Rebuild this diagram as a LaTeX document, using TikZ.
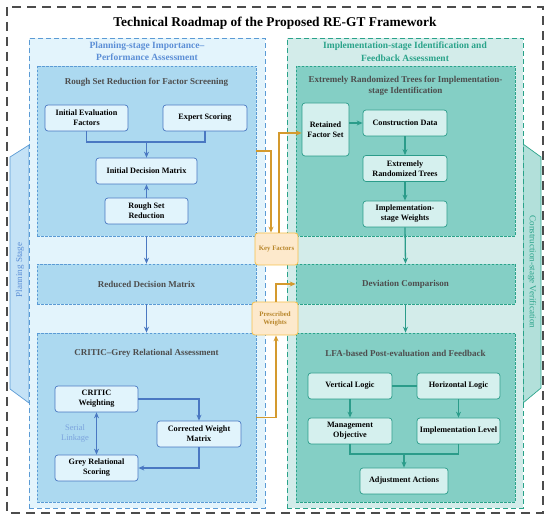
\documentclass[tikz,border=0pt]{standalone}
\usepackage{fontspec}
\setmainfont{Liberation Serif}
\usetikzlibrary{calc,positioning,arrows.meta}

\definecolor{pbord}{HTML}{5B9BD5}
\definecolor{pfill}{HTML}{E3F4FC}
\definecolor{pinner}{HTML}{ACD9F0}
\definecolor{pnode}{HTML}{E1F4FC}
\definecolor{pline}{HTML}{4A78C2}
\definecolor{ptext}{HTML}{5B8ED6}
\definecolor{pside}{HTML}{C4E2F6}
\definecolor{tbord}{HTML}{2AA38A}
\definecolor{tfill}{HTML}{D3ECEA}
\definecolor{tinner}{HTML}{84CFC5}
\definecolor{tnode}{HTML}{D5F0EE}
\definecolor{tline}{HTML}{2B9C8A}
\definecolor{tside}{HTML}{B2E0DA}
\definecolor{obord}{HTML}{F5C04A}
\definecolor{ofill}{HTML}{FDE9CC}
\definecolor{oline}{HTML}{D49A2E}
\definecolor{otext}{HTML}{B8862B}
\definecolor{gtext}{HTML}{4D4D4D}

\begin{document}
\begin{tikzpicture}[x=1pt,y=-1pt,
  panel/.style={draw, line width=0.8pt, dash pattern=on 5pt off 3pt, inner sep=0pt},
  inbox/.style={draw, line width=0.6pt, dash pattern=on 2.5pt off 1.5pt, inner sep=0pt},
  pbox/.style={draw=pline, fill=pnode, rounded corners=3pt, line width=0.7pt, align=center,
    font=\fontsize{8.2}{10}\selectfont\bfseries, inner sep=1pt},
  tbox/.style={draw=tline, fill=tnode, rounded corners=3pt, line width=0.7pt, align=center,
    font=\fontsize{8.2}{10}\selectfont\bfseries, inner sep=1pt},
  obox/.style={draw=obord, fill=ofill, rounded corners=3pt, line width=0.8pt, align=center,
    text=otext, font=\fontsize{6.8}{8}\selectfont\bfseries, inner sep=1pt},
  ptitle/.style={text=ptext, font=\fontsize{9.5}{12.5}\selectfont\bfseries, align=center},
  ttitle/.style={text=tbord, font=\fontsize{9.5}{12.5}\selectfont\bfseries, align=center},
  ititle/.style={text=gtext, font=\fontsize{9}{11}\selectfont\bfseries, align=center},
  parrow/.style={draw=pline, line width=1.3pt, -{Stealth[length=6pt,width=5pt]}},
  pline/.style={draw=pline, line width=1.3pt},
  tarrow/.style={draw=tline, line width=1.3pt, -{Stealth[length=6pt,width=5pt]}},
  tlink/.style={draw=tline, line width=1.3pt},
  oarrow/.style={draw=oline, line width=1.3pt, -{Stealth[length=6pt,width=5pt]}}]

\useasboundingbox (0,0) rectangle (550,521);

% outer frame and title
\draw[gray!60!black, line width=1.3pt, dash pattern=on 9pt off 6pt] (7,7) rectangle (543,513);
\node[font=\fontsize{13.4}{15}\selectfont\bfseries] (title) at (275,23) {Technical Roadmap of the Proposed RE-GT Framework};

% side stages
\draw[pbord, fill=pside, line width=0.7pt] (29,145) -- (10,157) -- (10,389) -- (29,403) -- cycle;
\node[rotate=90, text=ptext, font=\fontsize{9}{11}\selectfont] (plan) at (20,270) {Planning Stage};
\draw[tbord, fill=tside, line width=0.7pt] (523,144) -- (541,157) -- (541,388) -- (523,403) -- cycle;
\node[rotate=-90, text=tbord, font=\fontsize{9}{11}\selectfont] (constr) at (532,272) {Construction-stage Verification};

% planning side
\node[panel, draw=pbord, fill=pfill, minimum width=236pt, minimum height=470pt] (left) at (147,273) {};
\node[ptitle] at (147,51.5) {Planning-stage Importance--\\Performance Assessment};

\node[inbox, draw=pbord, fill=pinner, minimum width=219pt, minimum height=170pt] (rough) at (146.5,151) {};
\node[ititle] at (146.5,82) {Rough Set Reduction for Factor Screening};
\node[pbox, minimum width=83pt, minimum height=26pt] (ief) at (86.5,118) {Initial Evaluation\\Factors};
\node[pbox, minimum width=84pt, minimum height=26pt] (exs) at (205,118) {Expert Scoring};
\node[pbox, minimum width=101pt, minimum height=26pt] (idm) at (146.5,171) {Initial Decision Matrix};
\node[pbox, minimum width=83pt, minimum height=26pt] (rsr) at (146.5,211) {Rough Set\\Reduction};
\coordinate (joinA) at (146.5,142);
\draw[pline] (ief.south) |- (joinA) -| (exs.south);
\draw[parrow] (joinA) -- (idm.north);
\draw[parrow] (rsr.north) -- (idm.south);

\node[inbox, draw=pbord, fill=pinner, minimum width=219pt, minimum height=40pt, ititle] (reduced) at (146.5,284) {Reduced Decision Matrix};

\node[inbox, draw=pbord, fill=pinner, minimum width=219pt, minimum height=169pt] (critbox) at (146.5,417.5) {};
\node[ititle] at (146.5,353) {CRITIC--Grey Relational Assessment};
\node[pbox, minimum width=83pt, minimum height=26pt] (critic) at (96.5,399) {CRITIC\\Weighting};
\node[pbox, minimum width=84pt, minimum height=26pt] (cwm) at (199,434) {Corrected Weight\\Matrix};
\node[pbox, minimum width=83pt, minimum height=26pt] (grs) at (96.5,468) {Grey Relational\\Scoring};
\node[text=ptext!80, font=\fontsize{8.5}{10}\selectfont, align=center] (serial) at (75,433) {Serial\\Linkage};
\draw[parrow] (critic.east) -| (cwm.north);
\draw[parrow] (cwm.south) |- (grs.east);
\draw[parrow, {Stealth[length=6pt,width=5pt]}-{Stealth[length=6pt,width=5pt]}] (critic.south) -- (grs.north);

\draw[parrow] (rough.south) -- (reduced.north);
\draw[parrow] (reduced.south) -- (critbox.north);

% implementation side
\node[panel, draw=tbord, fill=tfill, minimum width=236pt, minimum height=470pt] (right) at (405,273) {};
\node[ttitle] at (405,51.5) {Implementation-stage Identification and\\Feedback Assessment};

\node[inbox, draw=tbord, fill=tinner, minimum width=219pt, minimum height=170pt] (ertbox) at (405.5,151) {};
\node[ititle] at (405.5,85.5) {Extremely Randomized Trees for Implementation-\\stage Identification};
\node[tbox, minimum width=47pt, minimum height=53pt] (rfs) at (325.5,129.5) {Retained\\Factor Set};
\node[tbox, minimum width=84pt, minimum height=26pt] (cdata) at (405,123) {Construction Data};
\node[tbox, minimum width=84pt, minimum height=26pt] (ert) at (405,168.5) {Extremely\\Randomized Trees};
\node[tbox, minimum width=84pt, minimum height=26pt] (isw) at (405,214) {Implementation-\\stage Weights};
\draw[tarrow] (rfs.east |- cdata.west) -- (cdata.west);
\draw[tarrow] (cdata.south) -- (ert.north);
\draw[tarrow] (ert.south) -- (isw.north);

\node[inbox, draw=tbord, fill=tinner, minimum width=219pt, minimum height=40pt, ititle] (dev) at (405.5,284) {Deviation Comparison};

\node[inbox, draw=tbord, fill=tinner, minimum width=219pt, minimum height=169pt] (lfa) at (405.5,417.5) {};
\node[ititle] at (405.5,353) {LFA-based Post-evaluation and Feedback};
\node[tbox, minimum width=84pt, minimum height=26pt] (vl) at (350,386) {Vertical Logic};
\node[tbox, minimum width=83pt, minimum height=26pt] (hl) at (458.5,386) {Horizontal Logic};
\node[tbox, minimum width=84pt, minimum height=26pt] (mo) at (350,431) {Management\\Objective};
\node[tbox, minimum width=83pt, minimum height=26pt] (il) at (458.5,431) {Implementation Level};
\node[tbox, minimum width=88pt, minimum height=26pt] (adj) at (404,481) {Adjustment Actions};
\draw[tlink] (vl.east) -- (hl.west);
\draw[tarrow] (vl.south) -- (mo.north);
\draw[tarrow] (hl.south) -- (il.north);
\coordinate (joinB) at (404,454);
\draw[tlink] (mo.south) |- (joinB) -| (il.south);
\draw[tarrow] (joinB) -- (adj.north);

\draw[tarrow] (isw.south) -- (dev.north);
\draw[tarrow] (dev.south) -- (lfa.north);

% cross links
\node[obox, minimum width=43pt, minimum height=32pt] (kf) at (276.5,249) {Key Factors};
\node[obox, minimum width=46pt, minimum height=33pt] (pw) at (275,318.5) {Prescribed\\Weights};
\draw[oarrow] (rough.east) -| ([xshift=-5.5pt]kf.north);
\draw[oarrow] ([xshift=2.5pt]kf.north) |- ([yshift=-3.5pt]rfs.west);
\draw[oarrow] (critbox.east) -| ([xshift=1pt]pw.south);
\draw[oarrow] ([xshift=1pt]pw.north) |- (dev.west);

\end{tikzpicture}
\end{document}
